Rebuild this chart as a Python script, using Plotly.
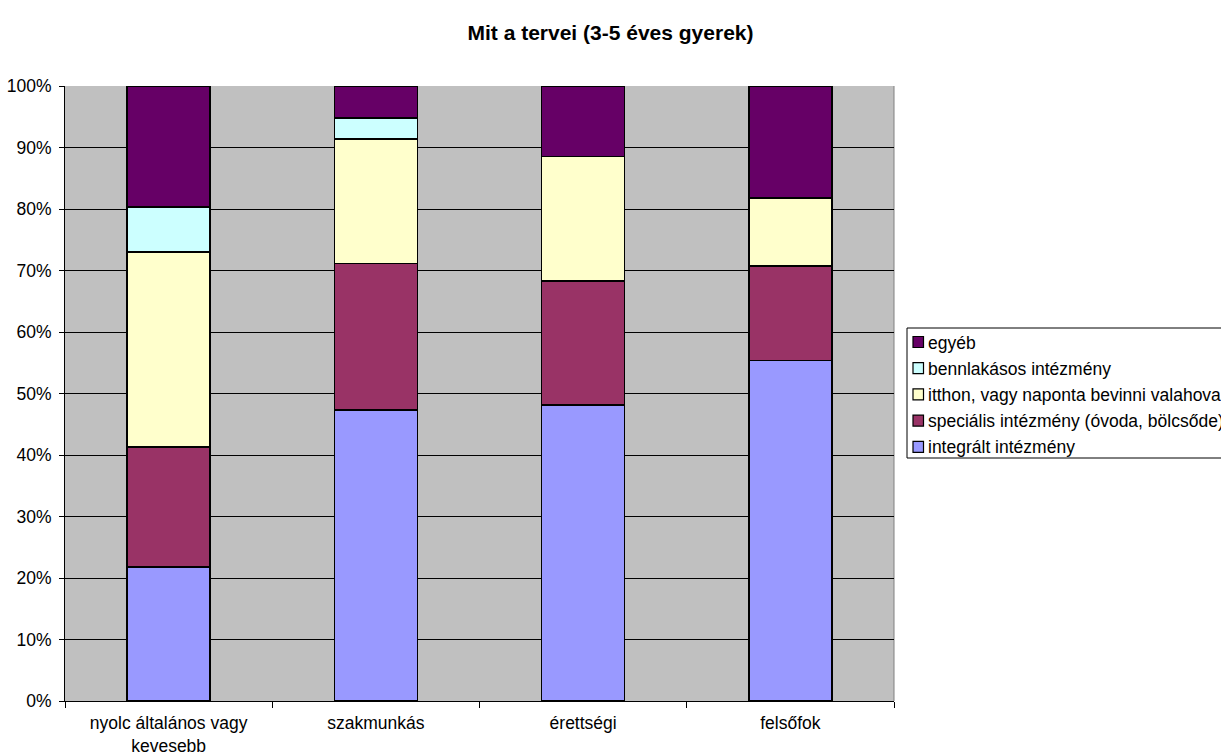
import plotly.graph_objects as go

categories = ["nyolc általános vagy<br>kevesebb", "szakmunkás", "érettségi", "felsőfok"]
integralt = [21.8, 47.3, 48.1, 55.4]
specialis = [19.5, 23.8, 20.2, 15.3]
itthon = [31.7, 20.3, 20.2, 11.1]
bennlakasos = [7.3, 3.4, 0.0, 0.0]
egyeb = [19.7, 5.2, 11.5, 18.2]

series = [
    ("integrált intézmény", integralt, "#9999FF"),
    ("speciális intézmény (óvoda, bölcsőde)", specialis, "#993366"),
    ("itthon, vagy naponta bevinni valahova", itthon, "#FFFFCC"),
    ("bennlakásos intézmény", bennlakasos, "#CCFFFF"),
    ("egyéb", egyeb, "#660066"),
]

W, H = 1221, 756
L, R, T, B = 65, 327, 86, 55
PW, PH = W - L - R, H - T - B
FONT = "Liberation Sans, Arial, sans-serif"


def px_x(px):
    return (px - L) / PW


def px_y(py):
    return (H - B - py) / PH


fig = go.Figure()
for name, vals, col in series:
    fig.add_trace(go.Bar(
        x=categories, y=vals, name=name,
        marker=dict(color=col, line=dict(color="black", width=1.5)),
        width=0.4, showlegend=False,
    ))

shapes = []
annotations = []
# legend box
shapes.append(dict(type="rect", xref="paper", yref="paper",
                   x0=px_x(907), x1=px_x(1240), y0=px_y(458), y1=px_y(328),
                   line=dict(color="black", width=1), fillcolor="white", layer="above"))
# plot-area right border
shapes.append(dict(type="line", xref="paper", yref="paper", x0=1, x1=1, y0=0, y1=1,
                   line=dict(color="#808080", width=1), layer="below"))
for i, (name, vals, col) in enumerate(reversed(series)):
    cy = 342 + i * 26.2
    shapes.append(dict(type="rect", xref="paper", yref="paper",
                       x0=px_x(913), x1=px_x(923.5), y0=px_y(cy + 5.5), y1=px_y(cy - 5.5),
                       line=dict(color="black", width=1.2), fillcolor=col, layer="above"))
    annotations.append(dict(xref="paper", yref="paper", x=px_x(926), y=px_y(cy + 0.5),
                            xanchor="left", yanchor="middle", text=name, showarrow=False,
                            font=dict(size=17.5, family=FONT, color="black")))

fig.update_layout(
    barmode="stack",
    width=W, height=H,
    margin=dict(l=L, r=R, t=T, b=B, autoexpand=False),
    paper_bgcolor="white",
    plot_bgcolor="#C0C0C0",
    font=dict(family=FONT, size=17.5, color="black"),
    title=dict(text="<b>Mit a tervei (3-5 éves gyerek)</b>", x=0.5, xanchor="center",
               y=1 - 33 / H, yanchor="middle", font=dict(size=21)),
    showlegend=False,
    shapes=shapes,
    annotations=annotations,
)
fig.update_xaxes(
    showline=True, linecolor="black", linewidth=1,
    ticks="outside", ticklen=6, tickcolor="black", tickson="boundaries",
    showgrid=False, ticklabelstandoff=6, automargin=False,
)
fig.update_yaxes(
    range=[0, 100], tickvals=[0, 10, 20, 30, 40, 50, 60, 70, 80, 90, 100],
    ticktext=[f"{v}%" for v in range(0, 101, 10)],
    showline=True, linecolor="black", linewidth=1,
    ticks="outside", ticklen=5, tickcolor="black", ticklabelstandoff=4,
    showgrid=True, gridcolor="black", gridwidth=1, zeroline=False, automargin=False,
)
fig.write_html("out.html")
